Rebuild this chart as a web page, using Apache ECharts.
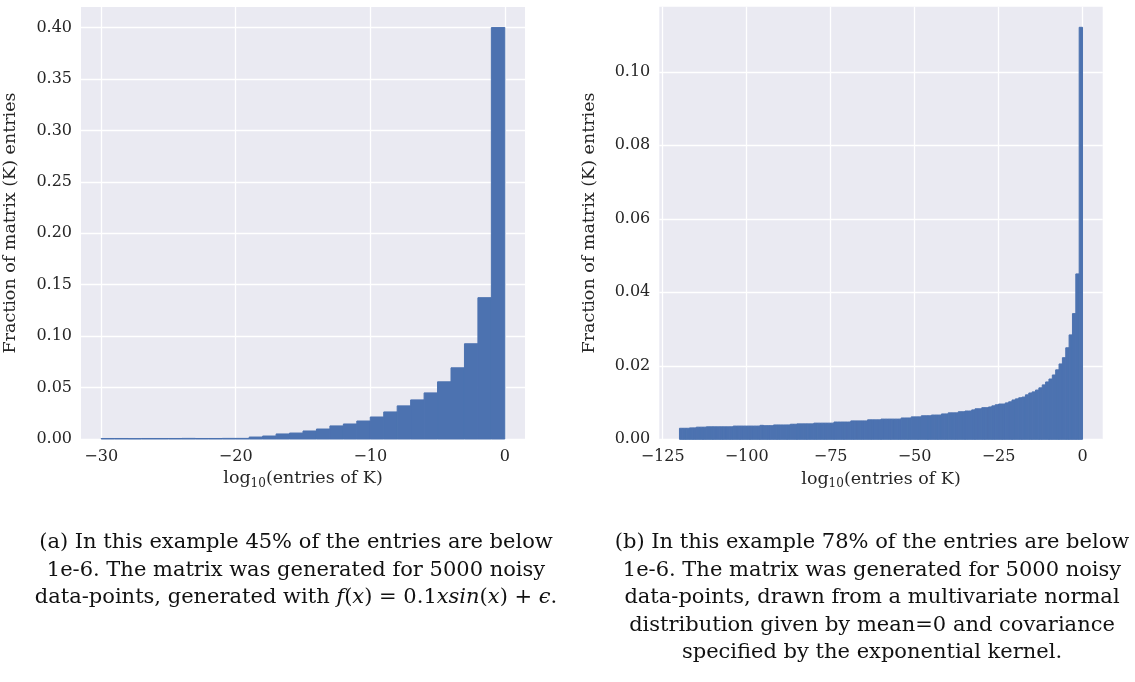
<!DOCTYPE html>
<html>
<head>
<meta charset="utf-8">
<script src="https://cdn.jsdelivr.net/npm/echarts@6/dist/echarts.min.js"></script>
<style>
  html, body { margin: 0; padding: 0; background: #ffffff; }
  #chart { width: 1135px; height: 682px; }
</style>
</head>
<body>
<div id="chart"></div>
<script>
// Histogram (a): bins of width 1 from -30 to 0, fraction of entries per bin
const leftBinStart = -30;
const leftBinWidth = 1;
const leftValues = [
  0.0005, 0.0005, 0.0004, 0.0005, 0.0005, 0.0005, 0.0006, 0.0005, 0.0005, 0.0006, 0.0006,
  0.0019, 0.0029, 0.0049, 0.0058, 0.0078, 0.0097, 0.0127, 0.0146, 0.0175,
  0.0214, 0.0263, 0.0322, 0.0380, 0.0448, 0.0556, 0.0692, 0.0926, 0.1374, 0.4000
];
const leftXTicks = [-30, -20, -10, 0];
const leftYTicks = [0, 0.05, 0.10, 0.15, 0.20, 0.25, 0.30, 0.35, 0.40];

// Histogram (b): bins of width 1 from -120 to 0
const rightBinStart = -120;
const rightBinWidth = 1;
const rightValues = [
  0.0030, 0.0030, 0.0030, 0.0031, 0.0031, 0.0033, 0.0033, 0.0033, 0.0034, 0.0034,
  0.0034, 0.0034, 0.0034, 0.0034, 0.0034, 0.0034, 0.0036, 0.0036, 0.0036, 0.0036,
  0.0036, 0.0036, 0.0036, 0.0036, 0.0038, 0.0037, 0.0037, 0.0037, 0.0039, 0.0039,
  0.0039, 0.0039, 0.0039, 0.0041, 0.0041, 0.0042, 0.0042, 0.0042, 0.0042, 0.0042,
  0.0044, 0.0044, 0.0044, 0.0044, 0.0044, 0.0044, 0.0047, 0.0047, 0.0047, 0.0047,
  0.0047, 0.0050, 0.0050, 0.0050, 0.0050, 0.0050, 0.0053, 0.0053, 0.0053, 0.0053,
  0.0055, 0.0055, 0.0055, 0.0055, 0.0055, 0.0055, 0.0058, 0.0058, 0.0058, 0.0061,
  0.0061, 0.0061, 0.0064, 0.0064, 0.0064, 0.0066, 0.0066, 0.0066, 0.0069, 0.0069,
  0.0072, 0.0072, 0.0072, 0.0075, 0.0075, 0.0077, 0.0077, 0.0080, 0.0083, 0.0083,
  0.0086, 0.0086, 0.0088, 0.0091, 0.0094, 0.0096, 0.0096, 0.0099, 0.0102, 0.0107,
  0.0110, 0.0113, 0.0115, 0.0121, 0.0126, 0.0129, 0.0134, 0.0140, 0.0148, 0.0156,
  0.0164, 0.0175, 0.0189, 0.0205, 0.0222, 0.0249, 0.0284, 0.0342, 0.0450, 0.1121
];
const rightXTicks = [-125, -100, -75, -50, -25, 0];
const rightYTicks = [0, 0.02, 0.04, 0.06, 0.08, 0.10];

const xTitle = 'log{sub|10}(entries of K)';
const yTitle = 'Fraction of matrix (K) entries';

const captionA = [
  '(a) In this example 45% of the entries are below',
  '1e-6. The matrix was generated for 5000 noisy',
  'data-points, generated with {i|f}({i|x}) = 0.1{i|xsin}({i|x}) + {i|ϵ}.'
];
const captionB = [
  '(b) In this example 78% of the entries are below',
  '1e-6. The matrix was generated for 5000 noisy',
  'data-points, drawn from a multivariate normal',
  'distribution given by mean=0 and covariance',
  'specified by the exponential kernel.'
];

const BAR = '#4c72b0';
const BG = '#eaeaf2';
const INK = '#262626';
const SERIF = '"DejaVu Serif", "Liberation Serif", serif';

function toBins(start, width, values) {
  return values.map((v, i) => [start + i * width, start + (i + 1) * width, v]);
}

function renderBin(params, api) {
  const a = api.coord([api.value(0), api.value(2)]);
  const b = api.coord([api.value(1), 0]);
  return {
    type: 'rect',
    shape: { x: a[0], y: a[1], width: b[0] - a[0], height: b[1] - a[1] },
    style: { fill: BAR, stroke: BAR, lineWidth: 1 }
  };
}

function fmtNum(v, digits) {
  const s = Math.abs(v).toFixed(digits);
  return (v < 0 ? '\u2212' : '') + s;
}

function xAxisCfg(idx, min, max, ticks) {
  return {
    type: 'value', gridIndex: idx, min: min, max: max,
    axisLine: { show: false },
    axisTick: { show: false, customValues: ticks },
    axisLabel: { customValues: ticks, margin: 10, color: INK, fontFamily: SERIF, fontSize: 16,
                 formatter: v => fmtNum(v, 0) },
    splitLine: { show: true, lineStyle: { color: '#ffffff', width: 1.3 } },
    name: xTitle, nameLocation: 'middle', nameGap: 29,
    nameTextStyle: { color: INK, fontFamily: SERIF, fontSize: 17.5,
      rich: { sub: { fontFamily: SERIF, fontSize: 12, color: INK, verticalAlign: 'bottom', padding: [9, 0, 0, 0] } } }
  };
}

function yAxisCfg(idx, max, ticks, gap) {
  return {
    type: 'value', gridIndex: idx, min: 0, max: max,
    axisLine: { show: false },
    axisTick: { show: false, customValues: ticks },
    axisLabel: { customValues: ticks, margin: 9, color: INK, fontFamily: SERIF, fontSize: 16,
                 formatter: v => fmtNum(v, 2) },
    splitLine: { show: true, lineStyle: { color: '#ffffff', width: 1.3 } },
    name: yTitle, nameLocation: 'middle', nameGap: gap, nameRotate: 90,
    nameTextStyle: { color: INK, fontFamily: SERIF, fontSize: 17.5 }
  };
}

const leftMax = Math.max(...leftValues) * 1.05;
const rightMax = Math.max(...rightValues) * 1.05;

function captionLines(lines, cx, y0) {
  return lines.map((t, i) => ({
    type: 'text', x: cx, y: y0 + i * 27.5,
    style: {
      text: t, fill: '#111111', font: '21px ' + SERIF, align: 'center', verticalAlign: 'middle',
      rich: { i: { fontStyle: 'italic', fontFamily: SERIF, fontSize: 21, fill: '#111111' } }
    }
  }));
}

const chart = echarts.init(document.getElementById('chart'), null, { renderer: 'canvas' });
chart.setOption({
  animation: false,
  backgroundColor: '#ffffff',
  grid: [
    { left: 81, top: 7, width: 444, height: 432, show: true, backgroundColor: BG, borderWidth: 0 },
    { left: 659.3, top: 6.7, width: 443.4, height: 432.6, show: true, backgroundColor: BG, borderWidth: 0 }
  ],
  xAxis: [
    xAxisCfg(0, leftBinStart - 1.5, 1.5, leftXTicks),
    xAxisCfg(1, rightBinStart - 6, 6, rightXTicks)
  ],
  yAxis: [
    yAxisCfg(0, leftMax, leftYTicks, 62),
    yAxisCfg(1, rightMax, rightYTicks, 61)
  ],
  series: [
    { type: 'custom', xAxisIndex: 0, yAxisIndex: 0, renderItem: renderBin,
      encode: { x: [0, 1], y: 2 }, data: toBins(leftBinStart, leftBinWidth, leftValues), z: 5 },
    { type: 'custom', xAxisIndex: 1, yAxisIndex: 1, renderItem: renderBin,
      encode: { x: [0, 1], y: 2 }, data: toBins(rightBinStart, rightBinWidth, rightValues), z: 5 }
  ],
  graphic: captionLines(captionA, 296, 543).concat(captionLines(captionB, 872, 543))
});
</script>
</body>
</html>
